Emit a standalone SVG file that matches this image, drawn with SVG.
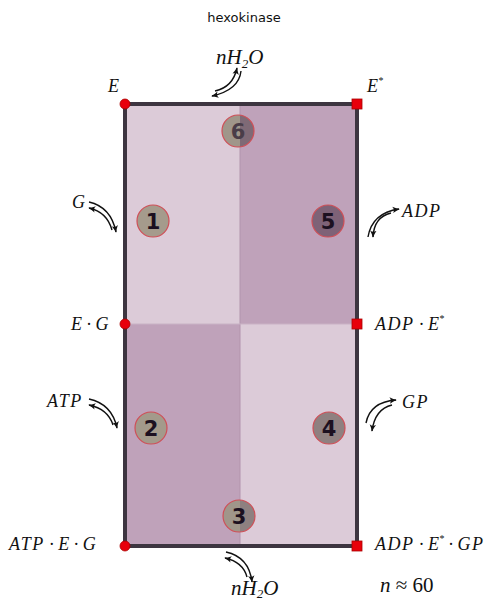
<svg xmlns="http://www.w3.org/2000/svg" width="489" height="603" viewBox="0 0 489 603">
<style>
.m{font-family:"Liberation Serif","DejaVu Serif",serif;font-style:italic;font-size:18px;fill:#111}
.w{letter-spacing:1.5px}
.num{font-family:"DejaVu Sans","Liberation Sans",sans-serif;font-weight:bold;font-size:21px;fill:#1c1020;text-anchor:middle}
.ar{fill:none;stroke:#111;stroke-width:1.4;marker-end:url(#ah)}
.cs{stroke:#cf4f57;stroke-width:1.2;fill:none}
.dot{fill:#e8000b;stroke:#a00;stroke-width:0.8}
</style>
<defs>
<marker id="ah" viewBox="0 0 10 10" refX="8" refY="5" markerWidth="8" markerHeight="8" markerUnits="userSpaceOnUse" orient="auto">
<path d="M0,1 Q5,4 9,5 Q5,6 0,9 Q3,5 0,1 Z" fill="#111"/>
</marker>
<clipPath id="cl"><rect x="0" y="0" width="240" height="603"/></clipPath>
<clipPath id="cr"><rect x="240" y="0" width="249" height="603"/></clipPath>
</defs>
<text x="244" y="22" font-family="DejaVu Sans, Liberation Sans, sans-serif" font-size="13" text-anchor="middle" fill="#111">hexokinase</text>
<g id="quadrants">
<rect x="125" y="104" width="115" height="220" fill="#dccbd8"/>
<rect x="240" y="104" width="117" height="220" fill="#bfa2ba"/>
<rect x="125" y="324" width="115" height="222" fill="#bfa2ba"/>
<rect x="240" y="324" width="117" height="222" fill="#dccbd8"/>
<line x1="240" y1="104" x2="240" y2="546" stroke="#b294ad" stroke-width="1"/>
<line x1="125" y1="324" x2="357" y2="324" stroke="#c9b2c5" stroke-width="1"/>
</g>
<g id="frame">
<rect x="125" y="104" width="232" height="442" fill="none" stroke="#3d3540" stroke-width="4"/>
</g>
<g id="step1"><circle cx="153" cy="221" r="16" fill="#a59b8c"/><circle cx="153" cy="221" r="16" class="cs"/><text x="153" y="229" class="num">1</text></g>
<g id="step2"><circle cx="151" cy="428" r="16" fill="#a39a8b"/><circle cx="151" cy="428" r="16" class="cs"/><text x="151" y="436" class="num">2</text></g>
<g id="step3"><circle cx="239" cy="516" r="16" fill="#a0968a" clip-path="url(#cl)"/><circle cx="239" cy="516" r="16" fill="#8e8080" clip-path="url(#cr)"/><circle cx="239" cy="516" r="16" class="cs"/><text x="239" y="524" class="num">3</text></g>
<g id="step4"><circle cx="329" cy="428" r="16" fill="#8f8080"/><circle cx="329" cy="428" r="16" class="cs"/><text x="329" y="436" class="num">4</text></g>
<g id="step5"><circle cx="328" cy="221" r="16" fill="#7e6277"/><circle cx="328" cy="221" r="16" class="cs"/><text x="328" y="229" class="num">5</text></g>
<g id="step6"><circle cx="238" cy="131" r="16" fill="#a0968a" clip-path="url(#cl)"/><circle cx="238" cy="131" r="16" fill="#7f6a76" clip-path="url(#cr)"/><circle cx="238" cy="131" r="16" class="cs"/><text x="238" y="139" class="num" style="fill:#4a3d48">6</text></g>
<g id="states">
<circle cx="125" cy="104" r="5" class="dot"/>
<circle cx="125" cy="324" r="5" class="dot"/>
<circle cx="125" cy="546" r="5" class="dot"/>
<rect x="352" y="99" width="10" height="10" class="dot"/>
<rect x="352" y="319" width="10" height="10" class="dot"/>
<rect x="352" y="541" width="10" height="10" class="dot"/>
</g>
<g id="connectors">
<path class="ar" d="M89,202 Q111,207 116,232"/>
<path class="ar" d="M112,230 Q107,212 89,208"/>
<path class="ar" d="M89,399 Q112,404 117,428"/>
<path class="ar" d="M113,425 Q108,409 89,405"/>
<path class="ar" d="M368,237 Q372,213 399,209"/>
<path class="ar" d="M391,213 Q374,217 373,237"/>
<path class="ar" d="M366,423 Q370,402 396,400"/>
<path class="ar" d="M392,405 Q375,409 372,431"/>
<path class="ar" d="M241,71 Q239,90 212,96"/>
<path class="ar" d="M215,91 Q233,87 237,68"/>
<path class="ar" d="M226,552 Q249,557 252,582"/>
<path class="ar" d="M247,577 Q243,562 225,558"/>
</g>
<g id="labels">
<text x="108" y="92" class="m">E</text>
<text x="367" y="92" class="m">E<tspan font-size="10" dy="-8">*</tspan></text>
<text x="71" y="330" class="m">E · G</text>
<text x="375" y="330" class="m"><tspan class="w">ADP</tspan> · E<tspan font-size="10" dy="-8">*</tspan></text>
<text x="9" y="550" class="m"><tspan class="w">ATP</tspan> · E · G</text>
<text x="375" y="550" class="m"><tspan class="w">ADP</tspan> · E<tspan font-size="10" dy="-8">*</tspan><tspan dy="8"> · </tspan><tspan class="w">GP</tspan></text>
<text x="72" y="208" class="m">G</text>
<text x="402" y="217" class="m w">ADP</text>
<text x="47" y="407" class="m w">ATP</text>
<text x="402" y="408" class="m w">GP</text>
<text x="216" y="64" class="m" style="font-size:21px">nH<tspan font-size="13" dy="4">2</tspan><tspan dy="-4">O</tspan></text>
<text x="231" y="595" class="m" style="font-size:21px">nH<tspan font-size="13" dy="3">2</tspan><tspan dy="-3">O</tspan></text>
<text x="380" y="592" class="m" style="font-size:21px">n <tspan font-style="normal">≈ 60</tspan></text>
</g>
</svg>
